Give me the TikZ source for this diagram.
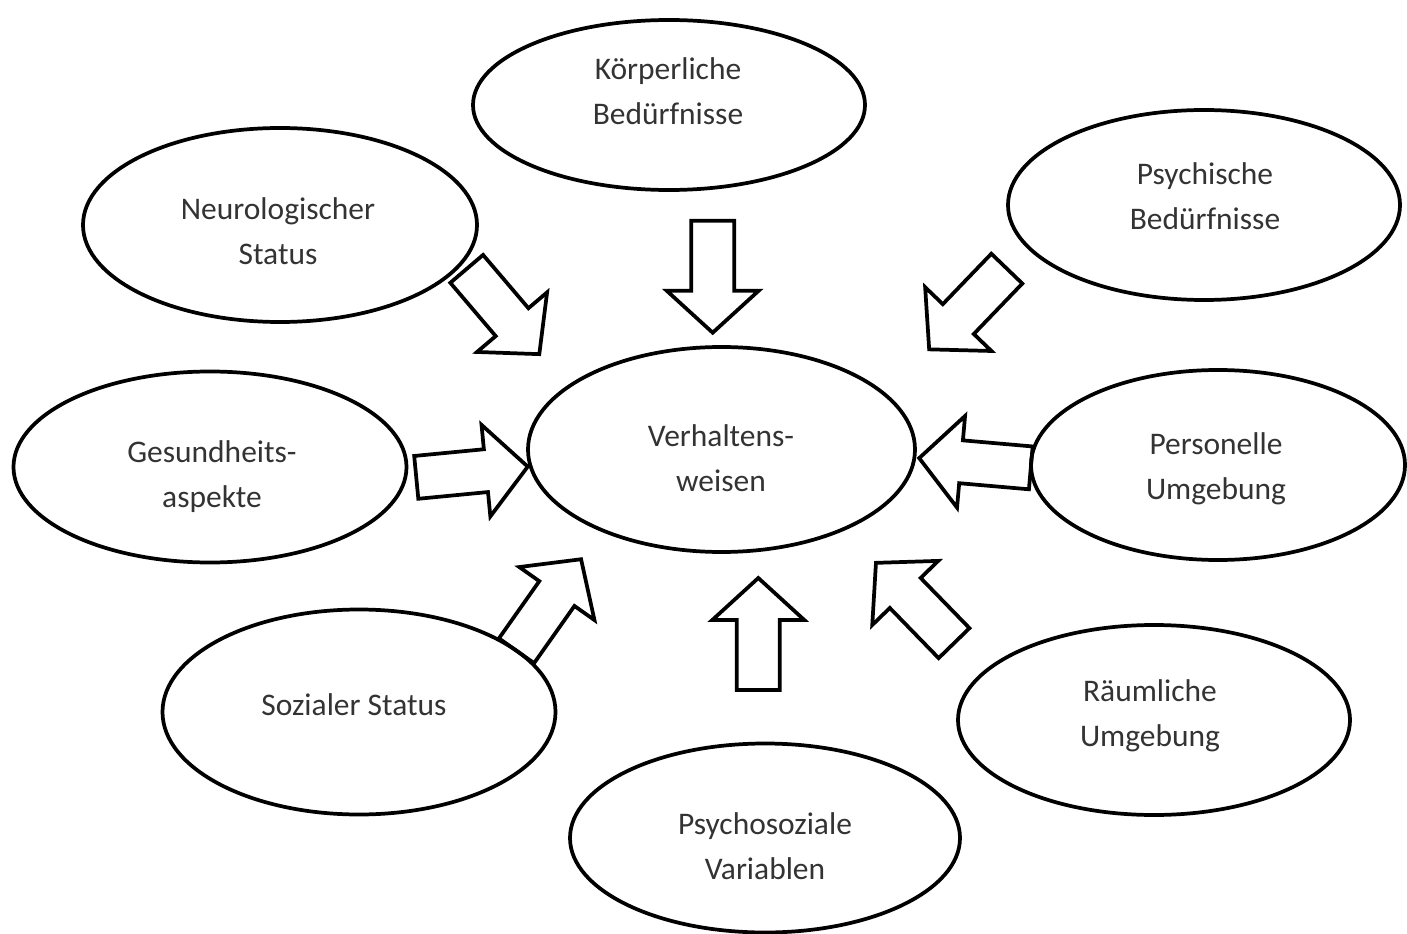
\documentclass[tikz,border=0pt]{standalone}
\usepackage{fontspec}
\setmainfont{Carlito}
\usetikzlibrary{shapes.geometric}

\tikzset{every picture/.style={line width=2.8pt}}
\tikzset{
  oval/.style={draw, ellipse, inner sep=0pt},
  beschriftung/.style={inner sep=0pt, align=center, text=black!80,
    font=\fontsize{23.6}{33.75}\selectfont},
  pfeilrand/.style={draw, line join=miter},
  blockpfeil/.pic={
    \draw[pfeilrand] (-56,-21.5) -- (14,-21.5) -- (14,-46) -- (56,0) -- (14,46) -- (14,21.5) -- (-56,21.5) -- cycle ;
  }
}

\begin{document}
\begin{tikzpicture}[x=0.75pt,y=0.75pt,yscale=-1,xscale=1]
	\useasboundingbox (0,0) rectangle (1407,934);

	%Shape: Ellipses
	\node[oval, minimum width=290.25pt, minimum height=153.75pt] (verhalten) at (721.5,449.5) {};
	\node[oval, minimum width=294pt, minimum height=127.5pt] (koerper) at (669,105) {};
	\node[oval, minimum width=295.5pt, minimum height=145.5pt] (neuro) at (280,225) {};
	\node[oval, minimum width=294pt, minimum height=142.5pt] (psychisch) at (1204,205) {};
	\node[oval, minimum width=294.75pt, minimum height=143.25pt] (gesund) at (210,467) {};
	\node[oval, minimum width=280.5pt, minimum height=142.5pt] (personell) at (1218,465) {};
	\node[oval, minimum width=294.75pt, minimum height=153.75pt] (sozial) at (359,712) {};
	\node[oval, minimum width=294pt, minimum height=142.5pt] (raeumlich) at (1154,720) {};
	\node[oval, minimum width=292.5pt, minimum height=141.75pt] (psychosozial) at (765,838) {};

	% Text Node
	\node[beschriftung] (verhalten-text) at (721,458) {Verhaltens-\\weisen};
	% Text Node
	\node[beschriftung] (koerper-text) at (668,91.5) {Körperliche\\Bedürfnisse};
	% Text Node
	\node[beschriftung] (neuro-text) at (278,231.5) {Neurologischer\\Status};
	% Text Node
	\node[beschriftung] (psychisch-text) at (1205,196.5) {Psychische\\Bedürfnisse};
	% Text Node
	\node[beschriftung] (gesund-text) at (212,476.5) {Gesundheits-\\aspekte};
	% Text Node
	\node[beschriftung] (personell-text) at (1216,468.5) {Personelle\\Umgebung};
	% Text Node
	\node[beschriftung] (sozial-text) at (354,705) {Sozialer Status};
	% Text Node
	\node[beschriftung] (raeumlich-text) at (1150,715.5) {Räumliche\\Umgebung};
	% Text Node
	\node[beschriftung] (psychosozial-text) at (765,846.5) {Psychosoziale\\Variablen};

	%Shape: Block Arrows
	\pic[rotate=-49.6] at (503,311.5) {blockpfeil};
	\pic[rotate=-90] at (712.7,276.7) {blockpfeil};
	\pic[rotate=-133.9] at (968,309) {blockpfeil};
	\pic[rotate=5.5] at (472,472) {blockpfeil};
	\pic[rotate=175] at (975,463) {blockpfeil};
	\pic[rotate=54.8] at (548.8,605) {blockpfeil};
	\pic[rotate=90] at (758.3,634) {blockpfeil};
	\pic[rotate=134.2] at (915,603) {blockpfeil};

\end{tikzpicture}
\end{document}
